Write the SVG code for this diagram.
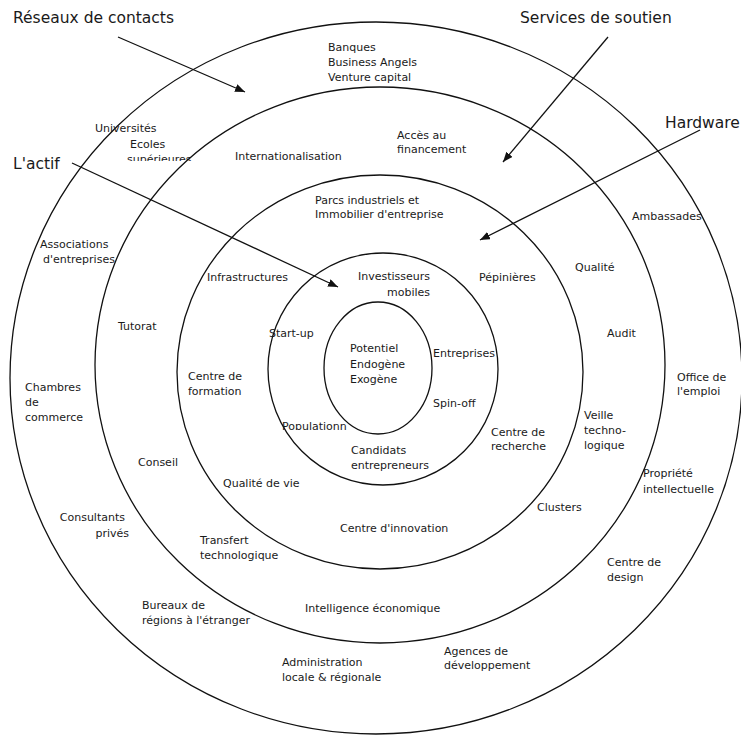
<svg xmlns="http://www.w3.org/2000/svg" width="741" height="736" viewBox="0 0 741 736">
<style>
.ring{fill:none;stroke:#111;stroke-width:1.3}
.lbl{font-family:"DejaVu Sans","Liberation Sans",sans-serif;font-size:11px;fill:#1a1a1a}
.ttl{font-family:"DejaVu Sans","Liberation Sans",sans-serif;font-size:15.5px;fill:#1a1a1a}
.arr{stroke:#111;stroke-width:1.3;fill:none;marker-end:url(#ah)}
</style>
<defs>
<marker id="ah" viewBox="0 0 10 8" refX="10" refY="4" markerWidth="10" markerHeight="8" markerUnits="userSpaceOnUse" orient="auto">
<path d="M0,0 L10,4 L0,8 Z" fill="#111"/>
</marker>
<clipPath id="clipSup"><rect x="120" y="150" width="80" height="11"/></clipPath>
<clipPath id="clipPop"><rect x="275" y="418" width="80" height="12"/></clipPath>
</defs>
<rect width="741" height="736" fill="#fff"/>

<g id="ring-outer">
<ellipse class="ring" cx="376" cy="378" rx="366" ry="356"/>
<text class="lbl" x="95" y="132">Universités</text>
<text class="lbl" x="130" y="148">Ecoles</text>
<text class="lbl" x="127" y="163" clip-path="url(#clipSup)">supérieures</text>
<text class="lbl" x="632" y="220">Ambassades</text>
<text class="lbl" x="40" y="248">Associations</text>
<text class="lbl" x="43" y="263">d'entreprises</text>
<text class="lbl" x="25" y="391">Chambres</text>
<text class="lbl" x="25" y="406">de</text>
<text class="lbl" x="25" y="421">commerce</text>
<text class="lbl" x="677" y="381">Office de</text>
<text class="lbl" x="677" y="395">l'emploi</text>
<text class="lbl" x="643" y="477">Propriété</text>
<text class="lbl" x="643" y="493">intellectuelle</text>
<text class="lbl" x="125" y="521" text-anchor="end">Consultants</text>
<text class="lbl" x="129" y="537" text-anchor="end">privés</text>
<text class="lbl" x="607" y="566">Centre de</text>
<text class="lbl" x="607" y="581">design</text>
<text class="lbl" x="142" y="609">Bureaux de</text>
<text class="lbl" x="142" y="624">régions à l'étranger</text>
<text class="lbl" x="282" y="666">Administration</text>
<text class="lbl" x="282" y="681">locale &amp; régionale</text>
<text class="lbl" x="444" y="655">Agences de</text>
<text class="lbl" x="444" y="669">développement</text>
</g>

<g id="ring-4">
<ellipse class="ring" cx="380" cy="365" rx="285" ry="278"/>
<text class="lbl" x="328" y="51">Banques</text>
<text class="lbl" x="328" y="66">Business Angels</text>
<text class="lbl" x="328" y="81">Venture capital</text>
<text class="lbl" x="397" y="139">Accès au</text>
<text class="lbl" x="397" y="153">financement</text>
<text class="lbl" x="235" y="160">Internationalisation</text>
<text class="lbl" x="575" y="271">Qualité</text>
<text class="lbl" x="118" y="330">Tutorat</text>
<text class="lbl" x="607" y="337">Audit</text>
<text class="lbl" x="584" y="419">Veille</text>
<text class="lbl" x="584" y="434">techno-</text>
<text class="lbl" x="584" y="449">logique</text>
<text class="lbl" x="138" y="466">Conseil</text>
<text class="lbl" x="537" y="511">Clusters</text>
<text class="lbl" x="200" y="544">Transfert</text>
<text class="lbl" x="200" y="559">technologique</text>
<text class="lbl" x="305" y="612">Intelligence économique</text>
</g>

<g id="ring-3">
<ellipse class="ring" cx="380" cy="372" rx="203" ry="197"/>
<text class="lbl" x="315" y="204">Parcs industriels et</text>
<text class="lbl" x="315" y="218">Immobilier d'entreprise</text>
<text class="lbl" x="207" y="281">Infrastructures</text>
<text class="lbl" x="479" y="281">Pépinières</text>
<text class="lbl" x="188" y="380">Centre de</text>
<text class="lbl" x="188" y="395">formation</text>
<text class="lbl" x="491" y="436">Centre de</text>
<text class="lbl" x="491" y="450">recherche</text>
<text class="lbl" x="223" y="487">Qualité de vie</text>
<text class="lbl" x="340" y="532">Centre d'innovation</text>
</g>

<g id="ring-2">
<ellipse class="ring" cx="383" cy="369" rx="115" ry="116"/>
<text class="lbl" x="430" y="280" text-anchor="end">Investisseurs</text>
<text class="lbl" x="430" y="296" text-anchor="end">mobiles</text>
<text class="lbl" x="269" y="337">Start-up</text>
<text class="lbl" x="433" y="357">Entreprises</text>
<text class="lbl" x="433" y="407">Spin-off</text>
<text class="lbl" x="282" y="430" clip-path="url(#clipPop)">Populationn</text>
<text class="lbl" x="351" y="454">Candidats</text>
<text class="lbl" x="351" y="469">entrepreneurs</text>
</g>

<g id="core">
<ellipse class="ring" cx="378" cy="368" rx="54" ry="66"/>
<text class="lbl" x="350" y="352">Potentiel</text>
<text class="lbl" x="350" y="368">Endogène</text>
<text class="lbl" x="350" y="383">Exogène</text>
</g>

<g id="titles">
<text class="ttl" x="13" y="23">Réseaux de contacts</text>
<text class="ttl" x="520" y="23">Services de soutien</text>
<text class="ttl" x="665" y="128">Hardware</text>
<text class="ttl" x="13" y="169">L'actif</text>
</g>

<g id="connectors">
<line class="arr" x1="118" y1="37" x2="245" y2="92"/>
<line class="arr" x1="608" y1="37" x2="503" y2="162"/>
<line class="arr" x1="700" y1="130" x2="480" y2="240"/>
<line class="arr" x1="72" y1="163" x2="338" y2="287"/>
</g>
</svg>
